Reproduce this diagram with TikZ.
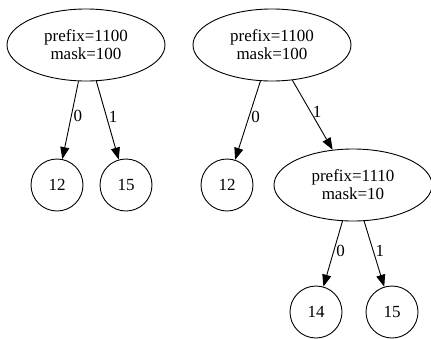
\documentclass[tikz,border=0pt]{standalone}
\usepackage{fontspec}
\setmainfont{Liberation Serif}
\usetikzlibrary{arrows.meta,shapes.geometric,positioning}

\begin{document}
\begin{tikzpicture}[x=1pt,y=-1pt,font=\fontsize{17}{18}\selectfont,
    inner/.style={draw, ellipse, line width=0.9pt, minimum width=158pt, minimum height=72pt, inner sep=0pt, align=center},
    leaf/.style={draw, circle, line width=0.9pt, minimum size=52pt, inner sep=0pt},
    edge/.style={line width=0.9pt, -{Triangle[length=12pt,width=9pt]}},
    lbl/.style={right, pos=0.45, inner sep=2pt}]
  \useasboundingbox (0,0) rectangle (431,338);
  % left tree
  \node[inner] (r1) at (86,45) {prefix=1100\\mask=100};
  \node[leaf] (a12) at (57,185) {12};
  \node[leaf] (a15) at (126,185) {15};
  \draw[edge] (r1) -- node[lbl]{0} (a12);
  \draw[edge] (r1) -- node[lbl]{1} (a15);
  % right tree
  \node[inner] (r2) at (272,45) {prefix=1100\\mask=100};
  \node[leaf] (b12) at (227,185) {12};
  \node[inner] (m2) at (353,185) {prefix=1110\\mask=10};
  \draw[edge] (r2) -- node[lbl]{0} (b12);
  \draw[edge] (r2) -- node[lbl]{1} (m2);
  % lower level
  \node[leaf] (b14) at (316,312) {14};
  \node[leaf] (b15) at (392,312) {15};
  \draw[edge] (m2) -- node[lbl]{0} (b14);
  \draw[edge] (m2) -- node[lbl]{1} (b15);
\end{tikzpicture}
\end{document}
